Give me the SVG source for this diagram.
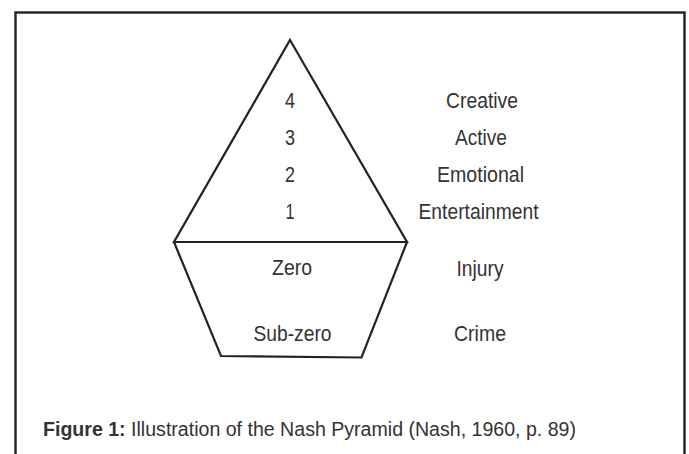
<svg xmlns="http://www.w3.org/2000/svg" width="689" height="454" viewBox="0 0 689 454">
  <style>
    .frame { fill: none; stroke: #222; stroke-width: 2.4; }
    .shape { fill: none; stroke: #222; stroke-width: 2.2; stroke-linejoin: miter; }
    .lbl { font-family: "Liberation Sans", Arial, sans-serif; font-size: 22.5px; fill: #333; text-anchor: middle; }
    .cap { font-family: "Liberation Sans", Arial, sans-serif; font-size: 20px; fill: #333; }
    .bold { font-weight: bold; }
  </style>
  <rect width="689" height="454" fill="#fff"/>
  <!-- outer frame, open at the bottom edge -->
  <rect class="frame" x="15.5" y="12.5" width="669" height="470"/>

  <g id="pyramid-top">
    <path class="shape" d="M290,40 L407,242 L174,242 Z"/>
    <text class="lbl" x="290" y="108" textLength="10" lengthAdjust="spacingAndGlyphs">4</text>
    <text class="lbl" x="290" y="145" textLength="10" lengthAdjust="spacingAndGlyphs">3</text>
    <text class="lbl" x="290" y="182" textLength="10" lengthAdjust="spacingAndGlyphs">2</text>
    <text class="lbl" x="290" y="219" textLength="9" lengthAdjust="spacingAndGlyphs">1</text>
  </g>

  <g id="pyramid-base">
    <path class="shape" d="M174,242 L221,356 L361.5,357.5 L407,242"/>
    <text class="lbl" x="292" y="275" textLength="40" lengthAdjust="spacingAndGlyphs">Zero</text>
    <text class="lbl" x="292.5" y="341" textLength="78" lengthAdjust="spacingAndGlyphs">Sub-zero</text>
  </g>

  <g id="levels">
    <text class="lbl" x="482" y="108" textLength="72" lengthAdjust="spacingAndGlyphs">Creative</text>
    <text class="lbl" x="481" y="145" textLength="52" lengthAdjust="spacingAndGlyphs">Active</text>
    <text class="lbl" x="480.5" y="182" textLength="87" lengthAdjust="spacingAndGlyphs">Emotional</text>
    <text class="lbl" x="478.5" y="219" textLength="120" lengthAdjust="spacingAndGlyphs">Entertainment</text>
    <text class="lbl" x="480" y="276" textLength="47" lengthAdjust="spacingAndGlyphs">Injury</text>
    <text class="lbl" x="480" y="341" textLength="52" lengthAdjust="spacingAndGlyphs">Crime</text>
  </g>

  <g id="caption">
    <text class="cap" x="43" y="436" textLength="533" lengthAdjust="spacingAndGlyphs"><tspan class="bold">Figure 1:</tspan> Illustration of the Nash Pyramid (Nash, 1960, p. 89)</text>
  </g>
</svg>
